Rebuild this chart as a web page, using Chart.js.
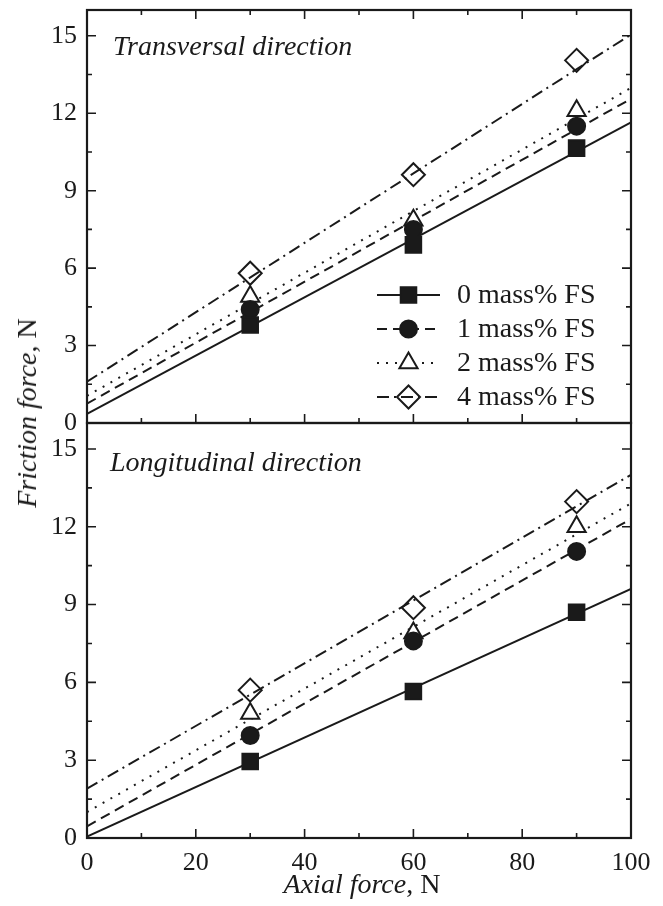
<!DOCTYPE html>
<html>
<head>
<meta charset="utf-8">
<script src="https://cdn.jsdelivr.net/npm/chart.js@4.4.0/dist/chart.umd.min.js"></script>
<style>
  body { margin: 0; background: #fff; overflow: hidden; }
  #wrap { position: relative; width: 663px; height: 906px; overflow: hidden; font-family: "Liberation Serif", "Times New Roman", serif; color: #1a1a1a; }
  #topChart { position: absolute; left: 0; top: -40px; }
  #botChart { position: absolute; left: 0; top: 384px; }
  .ttl { position: absolute; font-size: 28px; line-height: 32px; white-space: nowrap; }
  .ttl i { font-style: italic; }
</style>
</head>
<body>
<div id="wrap">
  <canvas id="topChart" width="663" height="500"></canvas>
  <canvas id="botChart" width="663" height="522"></canvas>
  <div class="ttl" style="left:113px; top:30px;"><i>Transversal direction</i></div>
  <div class="ttl" style="left:110px; top:446px;"><i>Longitudinal direction</i></div>
  <div class="ttl" style="left:27px; top:413px; transform: translate(-50%, -50%) rotate(-90deg);"><i>Friction force</i>, N</div>
  <div class="ttl" style="left:362px; top:884px; transform: translate(-50%, -50%);"><i>Axial force</i>, N</div>
</div>

<script>
// measured at 30, 60 and 90 N axial force
const axialForce = [30, 60, 90];
const fitX = [0, 100];
const seriesNames = ['0 mass% FS', '1 mass% FS', '2 mass% FS', '4 mass% FS'];

// transversal direction
const trans0 = [3.8, 6.9, 10.65];
const trans1 = [4.4, 7.5, 11.5];
const trans2 = [4.9, 7.85, 12.1];
const trans4 = [5.8, 9.62, 14.05];
const transFit0 = [0.35, 11.65];
const transFit1 = [0.75, 12.56];
const transFit2 = [1.05, 12.98];
const transFit4 = [1.6, 15.05];

// longitudinal direction
const long0 = [2.95, 5.65, 8.7];
const long1 = [3.95, 7.6, 11.05];
const long2 = [4.8, 7.9, 12.0];
const long4 = [5.7, 8.88, 12.97];
const longFit0 = [0.05, 9.6];
const longFit1 = [0.45, 12.3];
const longFit2 = [1.0, 12.9];
const longFit4 = [1.9, 14.0];

// axis ticks
const xTickValues = [0, 10, 20, 30, 40, 50, 60, 70, 80, 90, 100];
const yTickLabels = [0, 3, 6, 9, 12, 15];
const yTickValues = [0, 1.5, 3, 4.5, 6, 7.5, 9, 10.5, 12, 13.5, 15];

const ink = '#1a1a1a';
const fontSpec = { family: '"Liberation Serif", "Times New Roman", serif', size: 26 };

// one style per series: marker + line dash
const styles = [
  { pointStyle: 'rect',     radius: 11,   fill: ink,             dash: [] },
  { pointStyle: 'circle',   radius: 8.5,  fill: ink,             dash: [10, 6] },
  { pointStyle: 'triangle', radius: 10.5, fill: '#fff',          dash: [2, 7] },
  { pointStyle: 'rectRot',  radius: 11.5, fill: 'rgba(0,0,0,0)', dash: [12, 5, 2, 5] }
];

function pts(xs, ys) {
  return xs.map((x, i) => ({ x: x, y: ys[i] }));
}

function buildDatasets(points, fits) {
  const sets = [];
  points.forEach((p, i) => {
    const s = styles[i];
    sets.push({
      label: seriesNames[i],
      data: pts(axialForce, p),
      showLine: false,
      pointStyle: s.pointStyle,
      pointRadius: s.radius,
      pointHoverRadius: s.radius,
      pointBackgroundColor: s.fill,
      pointBorderColor: ink,
      pointBorderWidth: 2,
      order: 0
    });
  });
  fits.forEach((f, i) => {
    sets.push({
      label: seriesNames[i] + ' fit',
      data: pts(fitX, f),
      showLine: true,
      borderColor: ink,
      borderWidth: 2,
      borderDash: styles[i].dash,
      pointRadius: 0,
      order: 1
    });
  });
  return sets;
}

// frame and inward ticks on the plot box
const frameTicks = {
  id: 'frameTicks',
  afterDatasetsDraw(chart, args, opts) {
    const { ctx, chartArea: a, scales: { x, y } } = chart;
    ctx.save();
    ctx.strokeStyle = ink;
    ctx.lineWidth = 1.6;
    ctx.beginPath();
    xTickValues.forEach(v => {
      const px = x.getPixelForValue(v);
      const len = v % 20 === 0 ? 9 : 5;
      if (opts.bottom) { ctx.moveTo(px, a.bottom); ctx.lineTo(px, a.bottom - len); }
      if (opts.top) { ctx.moveTo(px, a.top); ctx.lineTo(px, a.top + len); }
    });
    yTickValues.forEach(v => {
      const py = y.getPixelForValue(v);
      const len = v % 3 === 0 ? 9 : 5;
      ctx.moveTo(a.left, py); ctx.lineTo(a.left + len, py);
      ctx.moveTo(a.right, py); ctx.lineTo(a.right - len, py);
    });
    ctx.stroke();
    ctx.lineWidth = 2.2;
    ctx.strokeRect(a.left, a.top, a.right - a.left, a.bottom - a.top);
    ctx.restore();
  }
};

// legend with line sample + marker
const lineLegend = {
  id: 'lineLegend',
  afterDraw(chart, args, opts) {
    if (!opts.show) return;
    const ctx = chart.ctx;
    ctx.save();
    seriesNames.forEach((name, i) => {
      const s = styles[i];
      const yy = opts.y + i * opts.gap;
      ctx.strokeStyle = ink;
      ctx.lineWidth = 2;
      ctx.setLineDash(s.dash);
      ctx.beginPath();
      ctx.moveTo(opts.x0, yy);
      ctx.lineTo(opts.x1, yy);
      ctx.stroke();
      ctx.setLineDash([]);
      ctx.fillStyle = s.fill;
      Chart.helpers.drawPoint(ctx, { pointStyle: s.pointStyle, radius: s.radius, rotation: 0, borderWidth: 2 },
        (opts.x0 + opts.x1) / 2, yy);
      ctx.fillStyle = ink;
      ctx.font = '28px "Liberation Serif", "Times New Roman", serif';
      ctx.textBaseline = 'middle';
      ctx.fillText(name, opts.tx, yy + 1);
    });
    ctx.restore();
  }
};

function makeChart(id, datasets, isTop) {
  const ctx = document.getElementById(id).getContext('2d');
  return new Chart(ctx, {
    type: 'scatter',
    data: { datasets: datasets },
    plugins: [frameTicks, lineLegend],
    options: {
      responsive: false,
      animation: false,
      events: [],
      layout: {
        padding: isTop ? { top: 50, bottom: 37, left: 0, right: 32 } : { top: 39, bottom: 0, left: 0, right: 32 }
      },
      scales: {
        x: {
          type: 'linear',
          display: !isTop,
          min: 0,
          max: 100,
          grid: { display: false, drawTicks: false },
          border: { display: false },
          ticks: { stepSize: 20, color: ink, font: fontSpec, padding: 10, maxRotation: 0 },
          afterFit: s => { s.height = isTop ? 0 : 68; }
        },
        y: {
          type: 'linear',
          min: 0,
          max: 16,
          grid: { display: false, drawTicks: false },
          border: { display: false },
          ticks: { color: ink, font: fontSpec, padding: 10 },
          afterBuildTicks: s => { s.ticks = yTickLabels.map(v => ({ value: v })); },
          afterFit: s => { s.width = 87; }
        }
      },
      plugins: {
        legend: { display: false },
        tooltip: { enabled: false },
        frameTicks: { top: isTop, bottom: true },
        lineLegend: { show: isTop, x0: 377, x1: 440, tx: 457, y: 335, gap: 34 }
      }
    }
  });
}

makeChart('topChart', buildDatasets([trans0, trans1, trans2, trans4], [transFit0, transFit1, transFit2, transFit4]), true);
makeChart('botChart', buildDatasets([long0, long1, long2, long4], [longFit0, longFit1, longFit2, longFit4]), false);
</script>
</body>
</html>
